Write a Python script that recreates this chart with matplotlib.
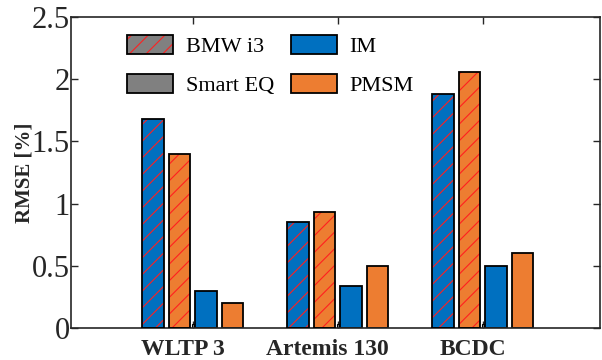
"""Grouped RMSE bars for BMW i3 / Smart EQ with IM and PMSM machines."""

import matplotlib
matplotlib.use("Agg")
import matplotlib.pyplot as plt
import matplotlib.transforms as mtransforms
import numpy as np
from matplotlib.patches import Patch

# data
cycles = ["WLTP 3", "Artemis 130", "BCDC"]
bmw_im = [1.68, 0.85, 1.88]
bmw_pmsm = [1.40, 0.93, 2.06]
smart_im = [0.30, 0.34, 0.50]
smart_pmsm = [0.20, 0.50, 0.60]
spacer = [0.035, 0.035, 0.035]  # near-zero "Smart EQ" column in the middle
yticks = [0, 0.5, 1, 1.5, 2, 2.5]
ytick_labels = ["0", "0.5", "1", "1.5", "2", "2.5"]

BLUE = "#0070C0"
ORANGE = "#ED7D31"
GRAY = "#808080"
HATCH_RED = "#FF2020"
INK = "#262626"

plt.rcParams["font.family"] = ["Liberation Serif", "DejaVu Serif"]
plt.rcParams["hatch.linewidth"] = 0.8

fig = plt.figure(figsize=(6.02, 3.6), dpi=100)
ax = fig.add_axes([0.118, 0.089, 0.879, 0.864])

x = np.arange(1, len(cycles) + 1)
step = 0.183
width = 0.148


def hatched_bars(xpos, vals, color):
    # hatch follows edgecolor, so draw hatch layer first, then the black outline
    ax.bar(xpos, vals, width, color=color, edgecolor=HATCH_RED, linewidth=0,
           hatch="//", zorder=2)
    ax.bar(xpos, vals, width, fill=False, edgecolor="black", linewidth=1.3, zorder=3)


hatched_bars(x - 1.5 * step, bmw_im, BLUE)
hatched_bars(x - 0.5 * step, bmw_pmsm, ORANGE)
ax.bar(x, spacer, 0.015, color=GRAY, edgecolor="black", linewidth=0.8, zorder=2)
ax.bar(x + 0.5 * step, smart_im, width, color=BLUE, edgecolor="black",
       linewidth=1.3, zorder=2)
ax.bar(x + 1.5 * step, smart_pmsm, width, color=ORANGE, edgecolor="black",
       linewidth=1.3, zorder=2)

ax.set_xlim(0.16, 3.81)
ax.set_ylim(0, 2.5)
ax.set_xticks(x)
ax.set_xticklabels(cycles, fontsize=17, fontweight="bold", color=INK)
ax.set_yticks(yticks)
ax.set_yticklabels(ytick_labels, fontsize=22, color=INK)
ax.set_ylabel("RMSE [%]", fontsize=15, fontweight="bold", color=INK, labelpad=-2)
ax.tick_params(direction="in", top=True, right=True, length=5, width=1,
               colors=INK, pad=3)
ax.tick_params(axis="x", pad=8)
ax.tick_params(axis="y", pad=1)
for s in ax.spines.values():
    s.set_color(INK)
    s.set_linewidth(1.2)

# category labels sit a bit left of the group centres in the original
shift = mtransforms.ScaledTranslation(-10 / 100, 0, fig.dpi_scale_trans)
for lab in ax.get_xticklabels():
    lab.set_transform(lab.get_transform() + shift)

# legend handles
bmw_fill = Patch(facecolor=GRAY, edgecolor=HATCH_RED, linewidth=0, hatch="//")
bmw_edge = Patch(fill=False, edgecolor="black", linewidth=1.3)
h_smart = Patch(facecolor=GRAY, edgecolor="black", linewidth=1.3)
h_im = Patch(facecolor=BLUE, edgecolor="black", linewidth=1.3)
h_pmsm = Patch(facecolor=ORANGE, edgecolor="black", linewidth=1.3)

ax.legend([(bmw_fill, bmw_edge), h_smart, h_im, h_pmsm],
          ["BMW i3", "Smart EQ", "IM", "PMSM"],
          ncol=2, loc="upper left", bbox_to_anchor=(0.08, 0.985),
          frameon=False, fontsize=16, handlelength=2.1, handleheight=0.95,
          handletextpad=0.55, columnspacing=0.75, labelspacing=0.75,
          borderaxespad=0.2)

fig.savefig("out.png", dpi=100)
